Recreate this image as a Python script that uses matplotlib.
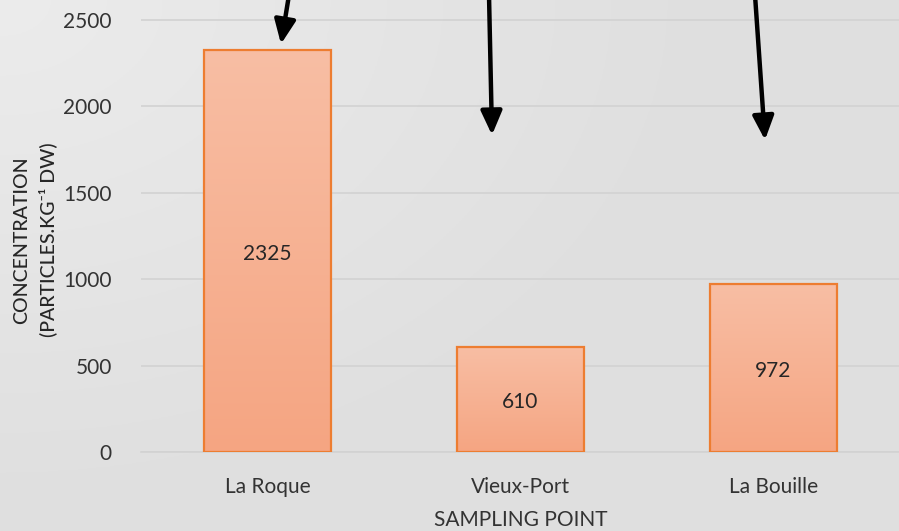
import numpy as np
import matplotlib
matplotlib.use("Agg")
import matplotlib.pyplot as plt
from matplotlib.colors import LinearSegmentedColormap

categories = ["La Roque", "Vieux-Port", "La Bouille"]
values = [2325, 610, 972]
yticks = [0, 500, 1000, 1500, 2000, 2500]

plt.rcParams['font.family'] = ['Lato', 'DejaVu Sans']

W, H = 899, 531
fig = plt.figure(figsize=(W / 100, H / 100), dpi=100)

# background gradient (lighter top-left)
bg = fig.add_axes([0, 0, 1, 1], zorder=-10)
yy, xx = np.mgrid[0:1:200j, 0:1:300j]
d = np.sqrt((xx * 1.2) ** 2 + (yy * 1.0) ** 2)
g = np.clip(d / 0.9, 0, 1)
top = np.array([0.925, 0.925, 0.925])
bot = np.array([0.878, 0.878, 0.878])
img = top[None, None, :] * (1 - g[..., None]) + bot[None, None, :] * g[..., None]
bg.imshow(img, extent=[0, 1, 0, 1], aspect='auto', origin='upper')
bg.axis('off')

ax = fig.add_axes([141 / W, 1 - 452 / H, (900 - 141) / W, 452 / H])
ax.patch.set_alpha(0)
x = np.arange(len(categories))
bars = ax.bar(x, values, width=0.502, facecolor='none', edgecolor='#ed7d31',
              linewidth=1.6, zorder=3)

cmap = LinearSegmentedColormap.from_list('o', ['#f5a582', '#f8bea4'])
grad = np.linspace(0, 1, 256).reshape(-1, 1)
for b in bars:
    x0, w, h = b.get_x(), b.get_width(), b.get_height()
    im = ax.imshow(grad, cmap=cmap, extent=[x0, x0 + w, 0, h], origin='lower',
                   aspect='auto', zorder=2)
    ax.text(x0 + w / 2, h / 2 - 15, f"{h:g}", ha='center', va='center',
            fontsize=15, color='#262626', zorder=4)

ax.set_xlim(-0.5, 2.5)
ax.set_ylim(0, 2500 + 20 / 0.1728)
ax.set_yticks(yticks)
ax.set_yticklabels([str(t) for t in yticks])
ax.set_xticks(x)
ax.set_xticklabels(categories)
ax.tick_params(axis='both', length=0, labelsize=15, labelcolor='#333333')
ax.tick_params(axis='y', pad=21)
ax.tick_params(axis='x', pad=18)
ax.grid(axis='y', color='#d2d2d2', linewidth=1.2, zorder=0)
for s in ['top', 'right', 'left']:
    ax.spines[s].set_visible(False)
ax.spines['bottom'].set_color('#d2d2d2')
ax.spines['bottom'].set_linewidth(1.2)

ax.set_xlabel("SAMPLING POINT", fontsize=15, color='#333333')
ax.xaxis.set_label_coords(0.5, -(520 - 452) / 452, transform=ax.transAxes)
ax.xaxis.label.set_va('center')
ax.set_ylabel("CONCENTRATION\n(PARTICLES.KG\u207b\u00b9 DW)", fontsize=14,
              color='#262626', linespacing=1.55, fontweight='medium')
ax.yaxis.set_label_coords(-(141 - 35) / 759, (452 - 240) / 452, transform=ax.transAxes)
ax.yaxis.label.set_va('center')

# annotation arrows from above
arrows = [((289, -5), (281, 44)), ((489, -5), (492, 135)), ((755, -5), (765, 140))]
for (sx, sy), (tx, ty) in arrows:
    fig.add_artist(matplotlib.patches.FancyArrowPatch(
        (sx / W, 1 - sy / H), (tx / W, 1 - ty / H), transform=fig.transFigure,
        arrowstyle='-|>,head_length=0.9,head_width=0.4', mutation_scale=16,
        color='black', linewidth=3.2, shrinkA=0, shrinkB=0, zorder=10))

fig.savefig("out.png", dpi=100)
